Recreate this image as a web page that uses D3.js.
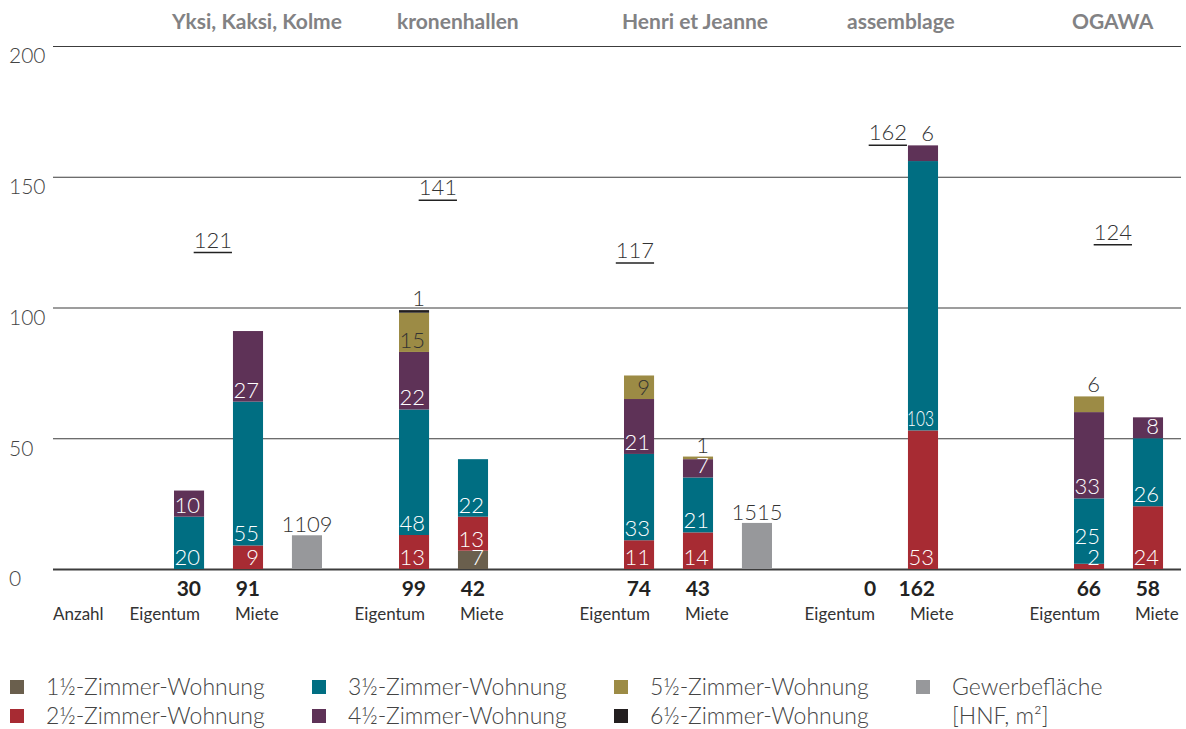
<!DOCTYPE html>
<html>
<head>
<meta charset="utf-8">
<script src="https://cdn.jsdelivr.net/npm/d3@7"></script>
<style>
  body { margin: 0; background: #fff; }
  svg text { font-family: Lato, "Open Sans", sans-serif; font-weight: 300; fill: #333; }
  .title { font-family: Lato, sans-serif; font-weight: 700; fill: #828284; font-size: 21px; }
  .count { font-weight: 700; font-size: 21px; fill: #222; }
</style>
</head>
<body>
<svg id="chart" width="1186" height="729"></svg>
<script>
var projects = ["Yksi, Kaksi, Kolme", "kronenhallen", "Henri et Jeanne", "assemblage", "OGAWA"];
var types = ["1½", "2½", "3½", "4½", "5½", "6½"];
var typeColors = ["#6a5f4d", "#a72b33", "#006e82", "#5e3257", "#9c8b45", "#231f20"];
var gewerbeColor = "#97989b";

// Eigentum, Wohnungen je Typ und Projekt
var eig_1 = [0, 0, 0, 0, 0];
var eig_2 = [0, 13, 11, 0, 2];
var eig_3 = [20, 48, 33, 0, 25];
var eig_4 = [10, 22, 21, 0, 33];
var eig_5 = [0, 15, 9, 0, 6];
var eig_6 = [0, 1, 0, 0, 0];
// Miete
var mie_1 = [0, 7, 0, 0, 0];
var mie_2 = [9, 13, 14, 53, 24];
var mie_3 = [55, 22, 21, 103, 26];
var mie_4 = [27, 0, 7, 6, 8];
var mie_5 = [0, 0, 1, 0, 0];
var mie_6 = [0, 0, 0, 0, 0];
// Gewerbeflaeche [HNF, m2]
var gewerbe = [1109, 0, 1515, 0, 0];

var yTicks = [0, 50, 100, 150, 200];
var legendLabels = ["1½-Zimmer-Wohnung", "2½-Zimmer-Wohnung", "3½-Zimmer-Wohnung",
                    "4½-Zimmer-Wohnung", "5½-Zimmer-Wohnung", "6½-Zimmer-Wohnung"];

var eigSets = [eig_1, eig_2, eig_3, eig_4, eig_5, eig_6];
var mieSets = [mie_1, mie_2, mie_3, mie_4, mie_5, mie_6];

var rows = [];
projects.forEach(function (p, i) {
  var e = { project: p, tenure: "Eigentum" }, m = { project: p, tenure: "Miete" };
  types.forEach(function (t, k) { e[t] = eigSets[k][i]; m[t] = mieSets[k][i]; });
  rows.push(e, m);
});

var svg = d3.select("#chart");
var left = 53, right = 1181;

var y = d3.scaleLinear().domain([0, 200]).range([569, 46]);
// Gewerbe bars share the axis at roughly 86 m2 per unit
var yArea = d3.scaleLinear().domain([0, 200 * 86]).range([569, 46]);

var xGroup = d3.scaleBand().domain(projects).range([left, 1178]);
var xInner = d3.scaleBand().domain(["Eigentum", "Miete", "Gewerbe"]).range([121, 269]).paddingInner(0.49);
var bw = xInner.bandwidth();
function bx(p, t) { return xGroup(p) + xInner(t); }

// grid + y labels
var axis = svg.append("g").attr("transform", "translate(" + left + ",0)")
  .call(d3.axisLeft(y).tickValues(yTicks).tickSize(-(right - left)).tickPadding(0));
axis.select(".domain").remove();
axis.selectAll(".tick line").attr("stroke", "#3c3c3c").attr("stroke-width", function (d) { return d === 0 ? 2.2 : 1.2; });
axis.selectAll(".tick text")
  .attr("x", 9 - left).attr("dy", "0.8em").attr("text-anchor", "start")
  .style("font-size", "21px").style("fill", "#444");

// stacked bars
var stack = d3.stack().keys(types)(rows);
var segs = [];
stack.forEach(function (layer, k) {
  layer.forEach(function (d) {
    var v = d[1] - d[0];
    if (v > 0) segs.push({ k: k, y0: d[0], y1: d[1], v: v, row: d.data });
  });
});

svg.append("g").selectAll("rect").data(segs).enter().append("rect")
  .attr("x", function (d) { return bx(d.row.project, d.row.tenure); })
  .attr("width", bw)
  .attr("y", function (d) { return y(d.y1); })
  .attr("height", function (d) { return y(d.y0) - y(d.y1); })
  .attr("fill", function (d) { return typeColors[d.k]; });

function barTotal(r) { return d3.sum(types, function (t) { return r[t]; }); }

// label positions: bottom of segment, pushed up if the label below is too close
var lastBase = {};
segs.forEach(function (d) {
  var key = d.row.project + d.row.tenure;
  d.top = d.y1 === barTotal(d.row);
  d.above = d.top && d.v <= 6;
  var base = d.above ? y(d.y1) - 4 : y(d.y0) - 4;
  if (!d.above && lastBase[key] !== undefined && lastBase[key] - base < 18) base = lastBase[key] - 21;
  d.base = base;
  lastBase[key] = base;
});

svg.append("g").selectAll("text").data(segs).enter().append("text")
  .attr("x", function (d) { return bx(d.row.project, d.row.tenure) + bw - 4; })
  .attr("y", function (d) { return d.base; })
  .attr("text-anchor", "end")
  .style("font-size", "22px")
  .style("fill", function (d) { return (d.above || d.k === 4) ? "#333" : "#fff"; })
  .text(function (d) { return d.v; })
  .each(function () {
    // squeeze labels that would run out of the bar (e.g. 103)
    if (this.getComputedTextLength() > bw - 3) {
      d3.select(this).attr("textLength", bw - 3).attr("lengthAdjust", "spacingAndGlyphs");
    }
  });

// Gewerbe bars
var gw = projects.map(function (p, i) { return { project: p, v: gewerbe[i] }; }).filter(function (d) { return d.v > 0; });
svg.append("g").selectAll("rect").data(gw).enter().append("rect")
  .attr("x", function (d) { return bx(d.project, "Gewerbe"); })
  .attr("width", bw)
  .attr("y", function (d) { return yArea(d.v); })
  .attr("height", function (d) { return yArea(0) - yArea(d.v); })
  .attr("fill", gewerbeColor);
svg.append("g").selectAll("text").data(gw).enter().append("text")
  .attr("x", function (d) { return bx(d.project, "Gewerbe") + bw / 2; })
  .attr("y", function (d) { return yArea(d.v) - 3; })
  .attr("text-anchor", "middle")
  .style("font-size", "22px")
  .text(function (d) { return d.v; });

// titles
svg.append("g").selectAll("text").data(projects).enter().append("text")
  .attr("class", "title")
  .attr("x", function (p) { return bx(p, "Eigentum") - 2; })
  .attr("y", 29)
  .text(function (p) { return p; });

// project totals, underlined
var totalAt = ["Miete", "Miete", "Eigentum", "Miete", "Miete"];
projects.forEach(function (p, i) {
  var tot = barTotal(rows[2 * i]) + barTotal(rows[2 * i + 1]);
  var xr = totalAt[i] === "Miete" ? bx(p, "Miete") - 1 : bx(p, "Eigentum") + bw;
  var t = svg.append("text").attr("x", xr).attr("y", y(tot) - 5)
    .attr("text-anchor", "end").style("font-size", "22px").text(tot);
  var w = t.node().getComputedTextLength();
  svg.append("line").attr("x1", xr - w).attr("x2", xr)
    .attr("y1", y(tot)).attr("y2", y(tot))
    .attr("stroke", "#222").attr("stroke-width", 1.5);
});

// counts and tenure labels
var foot = svg.append("g");
rows.forEach(function (r) {
  var x0 = bx(r.project, r.tenure);
  foot.append("text").attr("class", "count")
    .attr("x", x0 + bw - 3).attr("y", 596).attr("text-anchor", "end")
    .text(barTotal(r));
  foot.append("text")
    .attr("x", r.tenure === "Eigentum" ? x0 + bw - 4 : x0 + 2)
    .attr("y", 620)
    .attr("text-anchor", r.tenure === "Eigentum" ? "end" : "start")
    .style("font-size", "17px").style("font-weight", 400)
    .text(r.tenure);
});
foot.append("text").attr("x", left).attr("y", 620).style("font-size", "17px").style("font-weight", 400).text("Anzahl");

// legend
var legItems = legendLabels.map(function (l, k) { return { label: [l], color: typeColors[k], col: Math.floor(k / 2), row: k % 2 }; });
legItems.push({ label: ["Gewerbefläche", "[HNF, m²]"], color: gewerbeColor, col: 3, row: 0 });
var leg = svg.append("g").selectAll("g").data(legItems).enter().append("g")
  .attr("transform", function (d) { return "translate(" + (10 + d.col * 302) + "," + (680 + d.row * 29) + ")"; });
leg.append("rect").attr("width", 14).attr("height", 14).attr("fill", function (d) { return d.color; });
leg.each(function (d) {
  var g = d3.select(this);
  d.label.forEach(function (l, j) {
    g.append("text").attr("x", 36).attr("y", 15 + j * 29).style("font-size", "23px").style("fill", "#444").text(l);
  });
});
</script>
</body>
</html>
